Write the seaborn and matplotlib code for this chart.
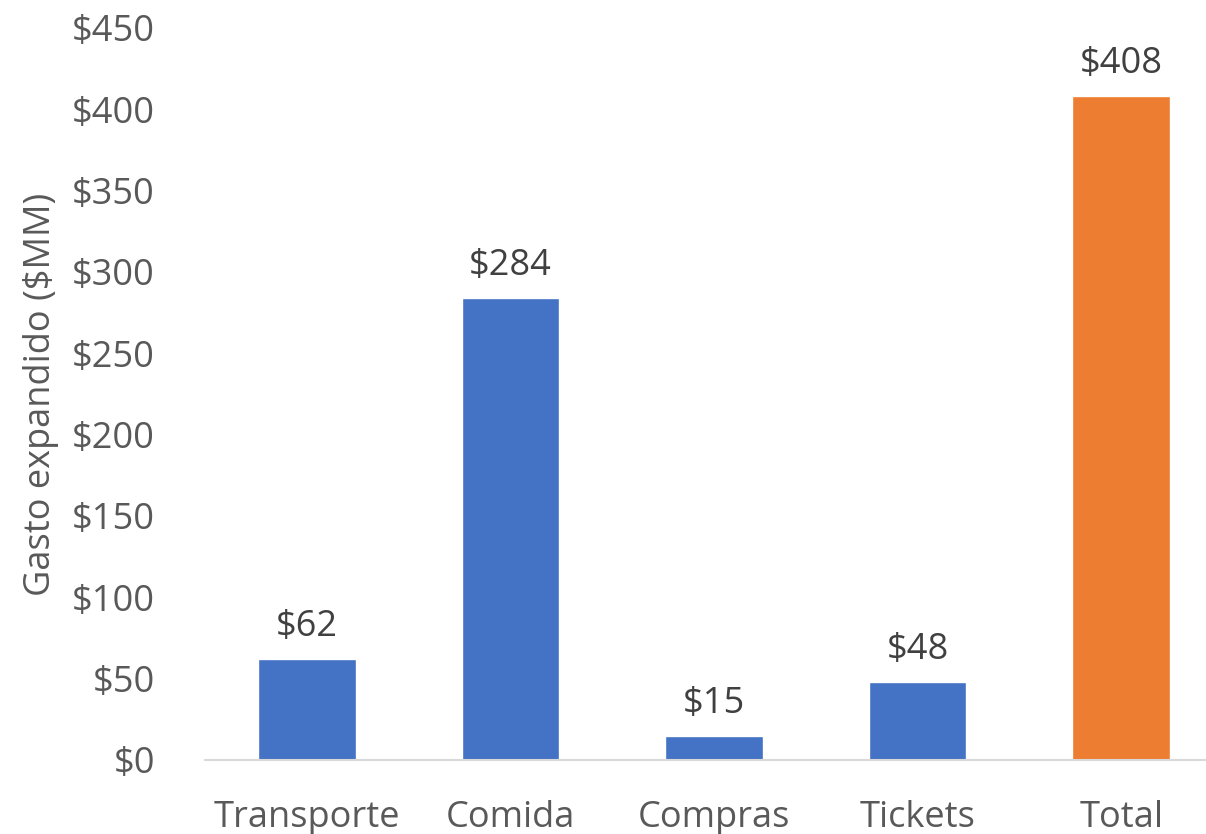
import matplotlib
matplotlib.use("Agg")
import matplotlib.pyplot as plt
import seaborn as sns
import pandas as pd

categories = ["Transporte", "Comida", "Compras", "Tickets", "Total"]
values = [62, 284, 15, 48, 408]
bar_colors = ["#4472C4", "#4472C4", "#4472C4", "#4472C4", "#ED7D31"]
y_ticks = [0, 50, 100, 150, 200, 250, 300, 350, 400, 450]
y_label = "Gasto expandido ($MM)"

sns.set_theme(style="white")
plt.rcParams["font.family"] = ["Open Sans", "DejaVu Sans"]

text_color = "#595959"
df = pd.DataFrame({"cat": categories, "val": values})

W, H = 1206, 834
fig = plt.figure(figsize=(W / 100, H / 100), dpi=100)
left, bottom = 205 / W, 74 / H
ax = fig.add_axes([left, bottom, (1223 - 205) / W, 732 / H])

sns.barplot(data=df, x="cat", y="val", hue="cat", palette=bar_colors,
            width=0.48, legend=False, ax=ax, saturation=1)

ax.set_ylim(0, 450)
ax.set_xlim(-0.5, len(categories) - 0.5)
ax.set_yticks(y_ticks)
ax.set_yticklabels([f"${v}" for v in y_ticks])
ax.tick_params(axis="y", length=0, pad=36, labelsize=26, labelcolor=text_color)
ax.tick_params(axis="x", length=0, pad=29, labelsize=26, labelcolor=text_color)
ax.set_xlabel("")
ax.set_ylabel(y_label, fontsize=26, color=text_color, labelpad=9)

for s in ["top", "right", "left"]:
    ax.spines[s].set_visible(False)
ax.spines["bottom"].set_color("#D9D9D9")
ax.spines["bottom"].set_linewidth(1.5)

for i, v in enumerate(values):
    ax.annotate(f"${v}", (i, v), xytext=(0, 10), textcoords="offset points",
                ha="center", va="bottom", fontsize=26, color="#404040")

fig.savefig("out.png", dpi=100)
